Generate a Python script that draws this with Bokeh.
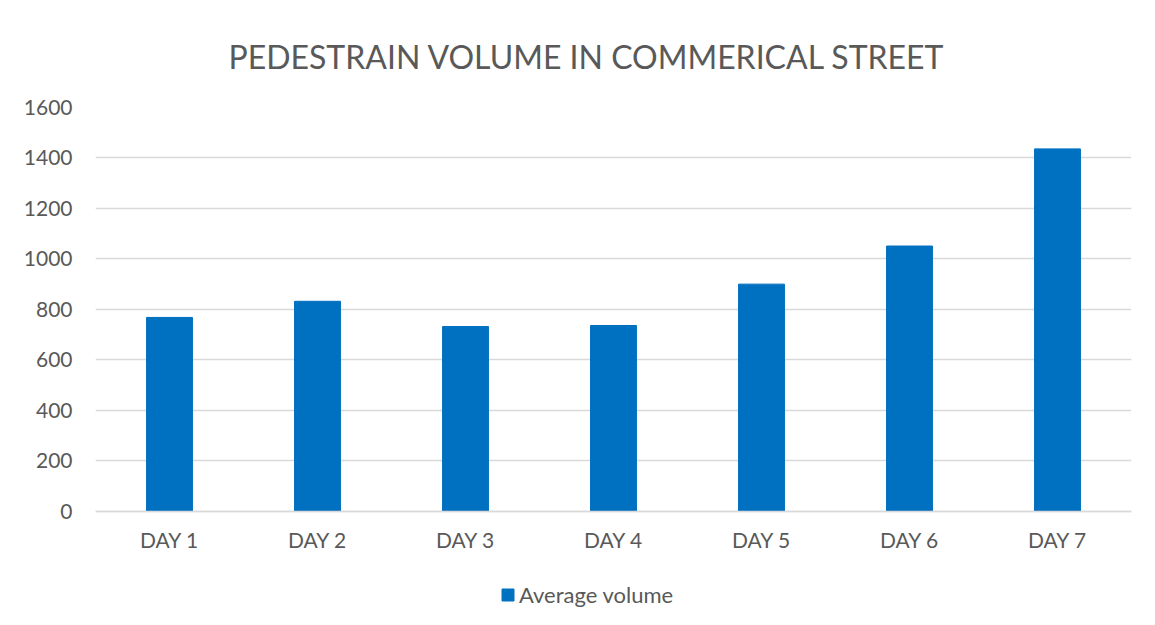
from bokeh.plotting import figure
from bokeh.models import Legend, LegendItem, FactorRange, CategoricalAxis
from bokeh.embed import file_html
from bokeh.resources import INLINE

days = ["DAY 1", "DAY 2", "DAY 3", "DAY 4", "DAY 5", "DAY 6", "DAY 7"]
avg_volume = [768, 832, 732, 736, 900, 1051, 1436]
y_ticks = [0, 200, 400, 600, 800, 1000, 1200, 1400, 1600]
title_text = "PEDESTRAIN VOLUME IN COMMERICAL STREET"
series_name = "Average volume"

FONT = "Lato"
TXT = "#595959"
GRID = "#D9D9D9"
BAR = "#0070C0"

p = figure(
    frame_width=1036, frame_height=515,
    x_range=FactorRange(*days, range_padding=0),
    y_range=(-441, 1600),
    x_axis_location=None,
    output_backend="svg", toolbar_location=None,
    min_border_left=95, min_border_right=24, min_border_top=107, min_border_bottom=3,
    title=title_text,
)

p.title.align = "left"
p.title.vertical_align = "top"
p.title.offset = 133
p.title.text_font = FONT
p.title.text_font_size = "32px"
p.title.text_font_style = "normal"
p.title.text_color = TXT
p.title.standoff = 59

r = p.vbar(x=days, top=avg_volume, width=0.31, color=BAR)

p.outline_line_color = None
p.background_fill_color = "white"
p.border_fill_color = "white"

for g in p.xgrid:
    g.visible = False
p.ygrid.grid_line_color = GRID
p.ygrid.grid_line_width = 1.5
p.ygrid.ticker = y_ticks
p.yaxis.ticker = y_ticks
p.yaxis.axis_line_color = None
p.yaxis.major_tick_line_color = None
p.yaxis.minor_tick_line_color = None
p.yaxis.major_label_text_font = FONT
p.yaxis.major_label_text_font_size = "21px"
p.yaxis.major_label_text_color = TXT
p.yaxis.major_label_standoff = 17

xax = CategoricalAxis(fixed_location=0)
xax.axis_line_color = GRID
xax.axis_line_width = 1.5
xax.major_tick_line_color = None
xax.minor_tick_line_color = None
xax.major_label_text_font = FONT
xax.major_label_text_font_size = "21px"
xax.major_label_text_color = TXT
xax.major_label_standoff = 10
p.add_layout(xax, "below")

legend = Legend(items=[LegendItem(label=series_name, renderers=[r])],
                location=(405, 14), orientation="horizontal")
legend.label_text_font = FONT
legend.label_text_font_size = "22px"
legend.label_text_color = TXT
legend.glyph_width = 15
legend.glyph_height = 15
legend.label_standoff = 4
legend.border_line_color = None
legend.background_fill_alpha = 0
legend.padding = 0
legend.margin = 0
p.add_layout(legend, "center")

open("out.html", "w").write(file_html(p, INLINE))
